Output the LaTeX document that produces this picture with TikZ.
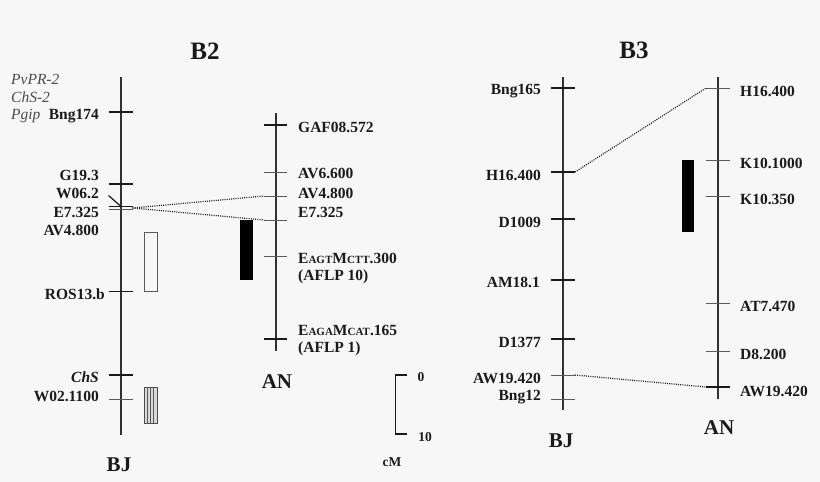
\documentclass[tikz,border=0pt]{standalone}
\usepackage{fontspec}
\setmainfont{Liberation Serif}
\definecolor{bgc}{HTML}{F7F7F7}
\definecolor{ink}{HTML}{1A1A1A}
\tikzset{
 x=1pt,y=-1pt,
 chrom/.style={draw=ink!90,line width=1.8pt},
 tick/.style={draw=ink,line width=1.2pt},
 thin tick/.style={draw=black!65,line width=1pt},
 link/.style={draw=ink,line width=1.2pt,dash pattern=on 1pt off 1.2pt},
 lab/.style={font=\bfseries\fontsize{15.5}{17}\selectfont,text=ink,inner sep=0pt},
 labl/.style={lab,anchor=east},
 labr/.style={lab,anchor=west},
 gene/.style={font=\itshape\fontsize{15.5}{17}\selectfont,text=black!70,inner sep=0pt},
 head/.style={font=\bfseries\fontsize{25}{27}\selectfont,text=ink,inner sep=0pt},
 sub/.style={font=\bfseries\fontsize{21}{23}\selectfont,text=ink,inner sep=0pt},
 scalelab/.style={font=\bfseries\fontsize{13.5}{15}\selectfont,text=ink,inner sep=0pt},
}
\newcommand{\sct}[1]{{\fontsize{11}{12}\selectfont #1}}
\begin{document}
\begin{tikzpicture}
\useasboundingbox (0,0) rectangle (820,482);
\fill[bgc] (0,0) rectangle (820,482);
\node[head] (t2) at (205,51) {B2};
\node[head] (t3) at (634,50) {B3};
% B2 BJ
\coordinate (bjt) at (120.5,77); \coordinate (bjb) at (120.5,435);
\draw[chrom,line width=2pt] (bjt) -- (bjb);
\draw[tick] (108.5,112) -- (132.5,112);
\draw[tick] (108.5,184) -- (132.5,184);
\draw[tick] (108.5,195.5) -- (120.5,206);
\draw[tick] (108.5,206.5) -- (132.5,206.5);
\coordinate (e7l) at (132.5,208);
\draw[thin tick] (108.5,209) -- (132.5,209);
\draw[thin tick,draw=ink] (108.5,291) -- (132.5,291);
\draw[tick] (108.5,375) -- (132.5,375);
\draw[thin tick] (108.5,399) -- (132.5,399);
\node[gene,anchor=west] (g1) at (11,79) {PvPR-2};
\node[gene,anchor=west] (g2) at (11,97) {ChS-2};
\node[gene,anchor=west] (g3) at (11,116) {Pgip};
\node[labl] (n1) at (99,116) {Bng174};
\node[labl] (n2) at (99,175) {G19.3};
\node[labl] (n3) at (99,193) {W06.2};
\node[labl] (n4) at (99,212) {E7.325};
\node[labl] (n5) at (99,230) {AV4.800};
\node[labl] (n6) at (105,294) {ROS13.b};
\node[labl,font=\bfseries\itshape\fontsize{15.5}{17}\selectfont] (n7) at (99,377) {ChS};
\node[labl] (n8) at (99,396) {W02.1100};
\node[sub] (bj1) at (119,465) {BJ};
\draw[draw=black!65,line width=.7pt] (144,232) rectangle (157,291);
\draw[draw=black!70,line width=.7pt,fill=black!15] (144,387) rectangle (157,423);
\draw[draw=black!65,line width=.6pt] (147,387) -- (147,423) (150,387) -- (150,423) (153,387) -- (153,423);
% B2 AN
\coordinate (ant) at (275.5,113); \coordinate (anb) at (275.5,351);
\draw[chrom,line width=2pt] (ant) -- (anb);
\draw[tick] (264,125) -- (287,125);
\draw[thin tick] (264,172) -- (287,172);
\coordinate (av) at (264,196);
\draw[thin tick] (av) -- (287,196);
\coordinate (e7r) at (264,220);
\draw[thin tick] (e7r) -- (287,220);
\draw[thin tick] (264,256) -- (287,256);
\draw[tick] (264,339) -- (287,339);
\draw[link] (e7l) -- (av);
\draw[link] (e7l) -- (e7r);
\fill[black] (240,220) rectangle (253,280);
\node[labr] (a1) at (298,127) {GAF08.572};
\node[labr] (a2) at (298,173) {AV6.600};
\node[labr] (a3) at (298,193) {AV4.800};
\node[labr] (a4) at (298,212) {E7.325};
\node[labr] (a5) at (298,258) {E\sct{AGT}M\sct{CTT}.300};
\node[labr] (a6) at (298,277) {(AFLP 10)};
\node[labr] (a7) at (298,330) {E\sct{AGA}M\sct{CAT}.165};
\node[labr] (a8) at (298,349) {(AFLP 1)};
\node[sub] (an1) at (277,382) {AN};
% scale
\coordinate (s0) at (407,375); \coordinate (s1) at (407,434);
\draw[draw=ink,line width=1.3pt] (s0) -- (395.5,375) -- (395.5,434) -- (s1);
\node[scalelab] (s0t) at (421,377) {0};
\node[scalelab] (s1t) at (425,437) {10};
\node[scalelab] (cm) at (392,462) {cM};
% B3 BJ
\coordinate (b3t) at (563,77); \coordinate (b3b) at (563,410);
\draw[chrom] (b3t) -- (b3b);
\draw[tick] (551,88) -- (575,88);
\coordinate (h16l) at (575,172);
\draw[tick] (551,172) -- (h16l);
\draw[tick] (551,219) -- (575,219);
\draw[tick] (551,280) -- (575,280);
\draw[tick] (551,339) -- (575,339);
\coordinate (awl) at (575,375);
\draw[thin tick] (551,375) -- (awl);
\draw[thin tick] (551,399) -- (575,399);
\node[labl] (c1) at (541,91) {Bng165};
\node[labl] (c2) at (541,175) {H16.400};
\node[labl] (c3) at (541,222) {D1009};
\node[labl] (c4) at (540,282) {AM18.1};
\node[labl] (c5) at (541,342) {D1377};
\node[labl] (c6) at (541,378) {AW19.420};
\node[labl] (c7) at (541,397) {Bng12};
\node[sub] (bj3) at (561,441) {BJ};
% B3 AN
\coordinate (c3t) at (718,77); \coordinate (c3b) at (718,399);
\draw[chrom] (c3t) -- (c3b);
\coordinate (h16r) at (706,88);
\draw[thin tick] (h16r) -- (730,88);
\draw[thin tick] (706,160) -- (730,160);
\draw[thin tick] (706,196) -- (730,196);
\draw[thin tick] (706,303) -- (730,303);
\draw[thin tick] (706,351) -- (730,351);
\coordinate (awr) at (706,387);
\draw[tick] (awr) -- (730,387);
\draw[link] (h16l) -- (h16r);
\draw[link] (awl) -- (awr);
\fill[black] (682,160) rectangle (694,232);
\node[labr] (d1) at (740,91) {H16.400};
\node[labr] (d2) at (740,163) {K10.1000};
\node[labr] (d3) at (740,199) {K10.350};
\node[labr] (d4) at (740,306) {AT7.470};
\node[labr] (d5) at (740,354) {D8.200};
\node[labr] (d6) at (740,391) {AW19.420};
\node[sub] (an3) at (719,428) {AN};
\end{tikzpicture}
\end{document}
